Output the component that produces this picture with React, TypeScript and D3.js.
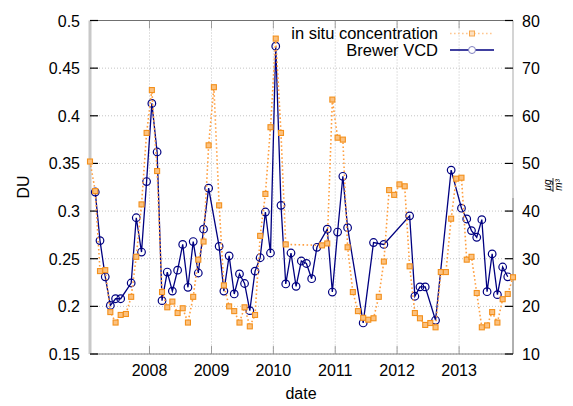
import React from "react";
import * as d3 from "d3";

// Monthly series, index 0 = Jan 2007 ... index 82 = Nov 2013
const startYear = 2007;
const brewerVCD: (number | null)[] = [
  null, 0.320, 0.269, 0.231, 0.201, 0.208, 0.208, null, 0.2245, 0.293, 0.257, 0.331,
  0.413, 0.362, 0.206, 0.236, 0.216, 0.238, 0.265, 0.220, 0.268, 0.235, 0.281, 0.324,
  null, 0.263, 0.216, 0.253, 0.213, 0.234, 0.224, 0.1955, 0.237, 0.251, 0.299, 0.256,
  0.473, 0.306, 0.2235, 0.256, 0.221, 0.2476, 0.245, 0.229, 0.262, null, 0.281, 0.215,
  0.278, 0.3365, 0.2826, null, null, 0.1826, null, 0.267, null, 0.265, null, null,
  null, null, 0.295, 0.2106, 0.2204, 0.2204, null, 0.1854, null, null, 0.343, null,
  0.303, 0.2917, 0.2795, 0.2725, 0.291, 0.2154, 0.255, 0.2123, 0.2413, 0.231, null,
];
const inSitu: (number | null)[] = [
  50.4, 44.2, 27.4, 27.6, 18.8, 16.6, 18.2, 18.4, 22.0, 30.4, 41.4, 56.4,
  65.4, 48.4, 23.0, 19.8, 21.0, 18.6, 19.6, 16.6, 22.0, 29.8, 33.6, 53.8,
  66.0, 41.2, 24.4, 20.0, 19.0, 16.6, 19.8, 15.8, 18.2, 34.8, 43.6, 57.6,
  76.2, 56.4, 33.0, null, null, null, null, null, null, 32.8, 33.2, 63.4,
  55.4, 55.0, 32.4, 23.0, 19.0, 17.6, 17.2, 17.5, 22.0, 29.4, 44.4, 43.4,
  45.6, 45.2, 28.4, 18.6, 17.5, 16.1, 16.5, 15.6, 27.2, 27.2, 38.4, 46.8,
  47.0, 29.8, 30.4, 22.8, 15.6, 16.0, 18.8, 16.6, 21.5, 22.6, 26.1,
];
const leftTicks = [0.15, 0.2, 0.25, 0.3, 0.35, 0.4, 0.45, 0.5];
const rightTicks = [10, 20, 30, 40, 50, 60, 70, 80];
const yearTicks = [2008, 2009, 2010, 2011, 2012, 2013];

const FONT = "'Liberation Sans', Arial, sans-serif";

export default function App() {
  const W = 573, H = 406;
  const L = 90, R = 513, T = 20.5, B = 354;
  const dateOf = (i: number) => new Date(startYear, i, 15);
  const x = d3.scaleTime().domain([dateOf(0), dateOf(inSitu.length - 1)]).range([L, R]);
  const yL = d3.scaleLinear().domain([0.15, 0.5]).range([B, T]);
  const yR = d3.scaleLinear().domain([10, 80]).range([B, T]);

  const blue = brewerVCD
    .map((v, i) => ({ d: dateOf(i), v }))
    .filter((p) => p.v !== null) as { d: Date; v: number }[];
  const orange = inSitu
    .map((v, i) => ({ d: dateOf(i), v }))
    .filter((p) => p.v !== null) as { d: Date; v: number }[];

  const blueLine = d3.line<{ d: Date; v: number }>().x((p) => x(p.d)).y((p) => yL(p.v))(blue) || "";
  const orangeLine = d3.line<{ d: Date; v: number }>().x((p) => x(p.d)).y((p) => yR(p.v))(orange) || "";

  const navy = "#000080";
  const orangeStroke = "#f3901c";
  const orangeLineColor = "#ff9f40";

  return (
    <svg width={W} height={H} style={{ display: "block", position: "absolute", left: 0, top: 0 }} fontFamily={FONT}>
      <rect x={0} y={0} width={W} height={H} fill="#fff" />
      {/* grid */}
      {leftTicks.map((t) => (
        <line key={"gy" + t} x1={L} x2={R} y1={yL(t)} y2={yL(t)} stroke="#b4b4b4" strokeWidth={0.8} strokeDasharray="1,2" />
      ))}
      {yearTicks.map((yr) => (
        <line key={"gx" + yr} x1={x(new Date(yr, 0, 1))} x2={x(new Date(yr, 0, 1))} y1={T} y2={B} stroke="#b4b4b4" strokeWidth={0.8} strokeDasharray="1,2" />
      ))}
      {/* spines */}
      <line x1={L} x2={R} y1={T} y2={T} stroke="#707070" strokeWidth={1} />
      <line x1={L} x2={R} y1={B} y2={B} stroke="#808080" strokeWidth={1} />
      <line x1={R} x2={R} y1={T} y2={198} stroke="#b8b8b8" strokeWidth={1.2} />
      <line x1={R} x2={R} y1={198} y2={B} stroke="#606060" strokeWidth={1} />
      <line x1={L} x2={L} y1={T} y2={B} stroke="#c8c8c8" strokeWidth={3} />
      {/* ticks */}
      {leftTicks.map((t) => (
        <g key={"lt" + t}>
          <line x1={L} x2={L + 8} y1={yL(t)} y2={yL(t)} stroke="#000" strokeWidth={1.2} />
          <text x={L - 10} y={yL(t) + 6} textAnchor="end" fontSize={16} fill="#000">{t}</text>
        </g>
      ))}
      {rightTicks.map((t) => (
        <g key={"rt" + t}>
          <line x1={R - 8} x2={R} y1={yR(t)} y2={yR(t)} stroke="#000" strokeWidth={1.2} />
          <text x={R + 9} y={yR(t) + 6} textAnchor="start" fontSize={16} fill="#000">{t}</text>
        </g>
      ))}
      {yearTicks.map((yr) => {
        const px = x(new Date(yr, 0, 1));
        return (
          <g key={"xt" + yr}>
            <line x1={px} x2={px} y1={B} y2={B - 8} stroke="#888" strokeWidth={0.8} />
            <line x1={px} x2={px} y1={T} y2={T + 8} stroke="#888" strokeWidth={0.8} />
            <text x={px} y={376} textAnchor="middle" fontSize={16} fill="#000">{yr}</text>
          </g>
        );
      })}
      {/* axis labels */}
      <text x={301} y={399} textAnchor="middle" fontSize={16} fill="#000">date</text>
      <text transform="translate(29,187) rotate(-90)" textAnchor="middle" fontSize={16} fill="#000">DU</text>
      <g transform="translate(553,185) rotate(-90)">
        <text x={0} y={-2} textAnchor="middle" fontSize={10} fontStyle="italic" fill="#000">μg</text>
        <line x1={-7} x2={7} y1={0} y2={0} stroke="#000" strokeWidth={0.8} />
        <text x={0} y={9} textAnchor="middle" fontSize={10} fontStyle="italic" fill="#000">m³</text>
      </g>
      {/* Brewer VCD */}
      <path d={blueLine} fill="none" stroke={navy} strokeWidth={1.3} />
      {blue.map((p, i) => (
        <circle key={"b" + i} cx={x(p.d)} cy={yL(p.v)} r={3.8} fill="none" stroke={navy} strokeWidth={1.2} />
      ))}
      {/* in situ */}
      <path d={orangeLine} fill="none" stroke={orangeLineColor} strokeWidth={1.6} strokeDasharray="1.6,2.4" />
      {orange.map((p, i) => (
        <rect key={"o" + i} x={x(p.d) - 2.5} y={yR(p.v) - 2.5} width={5} height={5} fill="#fbc17f" stroke={orangeStroke} strokeWidth={1.1} />
      ))}
      {/* legend */}
      <text x={438} y={39} textAnchor="end" fontSize={16.5} fill="#000">in situ concentration</text>
      <text x={438} y={55.5} textAnchor="end" fontSize={16.5} fill="#000">Brewer VCD</text>
      <line x1={450} x2={494} y1={33.5} y2={33.5} stroke="#ffc690" strokeWidth={1.6} strokeDasharray="1.6,2.4" />
      <rect x={469.5} y={31} width={5} height={5} fill="#fde0c0" stroke="#f6a850" strokeWidth={1} />
      <line x1={450} x2={494} y1={50} y2={50} stroke={navy} strokeWidth={1.3} />
      <circle cx={472} cy={50} r={3.5} fill="#fff" stroke="#8080c0" strokeWidth={1} />
    </svg>
  );
}
